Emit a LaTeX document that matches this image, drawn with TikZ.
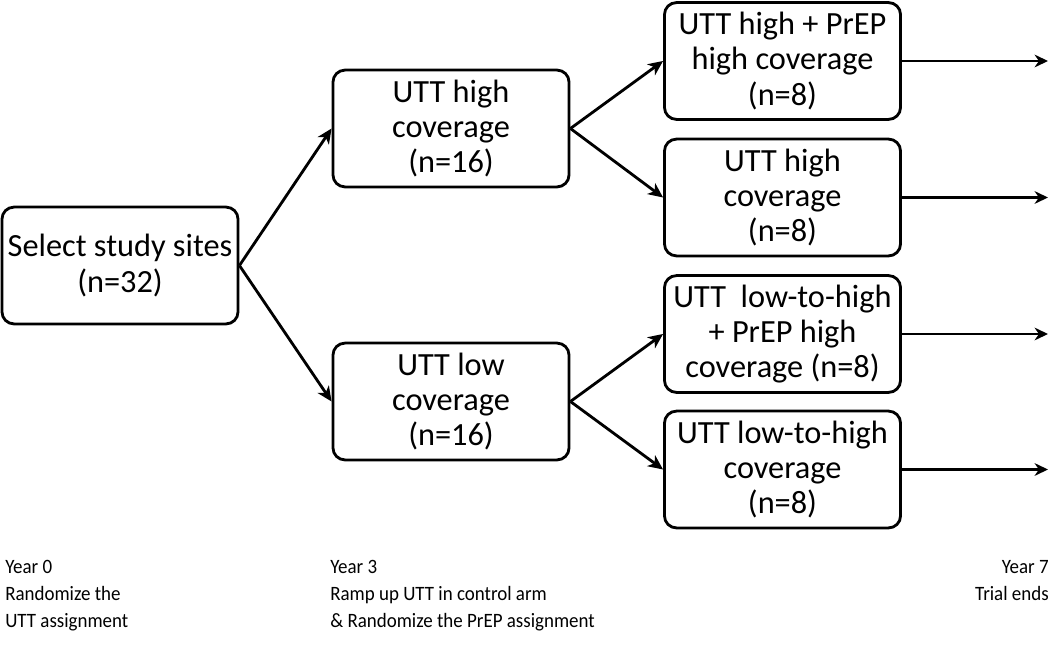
\documentclass[tikz,border=0pt]{standalone}
\usepackage{fontspec}
\setmainfont{Carlito}
\newfontfamily\yearfont[FakeStretch=0.93]{Carlito}
\usetikzlibrary{arrows.meta}

\begin{document}
\begin{tikzpicture}[x=0.025cm,y=-0.025cm,
        box/.style={draw,line width=2pt,rounded corners=0.3cm,align=center,
            minimum width=5.9cm,minimum height=2.92cm,inner sep=0pt,
            font=\fontsize{23}{25}\selectfont,
            execute at begin node={\rule{0pt}{23pt}}},
        link/.style={-{Stealth[length=10.5pt,width=9.5pt,inset=3pt]},line width=2pt},
        endarrow/.style={-{Stealth[length=9.5pt,width=9pt,inset=3pt]},line width=1.5pt},
        year/.style={align=left,inner sep=0pt,font=\yearfont\fontsize{14.5}{19.2}\selectfont}]
    \useasboundingbox (0,0) rectangle (1050,644);
    % first randomization
    \node[box] (sel) at (120,265.5) {Select study sites\\(n=32)};
    \node[box] (hi) at (451,128.5) {UTT high\\coverage\\(n=16)};
    \node[box] (lo) at (451,401.5) {UTT low\\coverage\\(n=16)};
    % second randomization
    \node[box] (hiP) at (782.5,61) {UTT high + PrEP\\high coverage\\(n=8)};
    \node[box] (hiN) at (782.5,197.5) {UTT high\\coverage\\(n=8)};
    \node[box] (loP) at (782.5,334) {UTT\ \ low-to-high\\+ PrEP high\\coverage (n=8)};
    \node[box] (loN) at (782.5,469.5) {UTT low-to-high\\coverage\\(n=8)};
    \coordinate (tEnd) at (1048,0);
    \foreach \a/\b in {sel/hi,sel/lo,hi/hiP,hi/hiN,lo/loP,lo/loN}
        \draw[link] (\a.east) -- (\b.west);
    \foreach \n in {hiP,hiN,loP,loN}
        \draw[endarrow] (\n.east) -- (\n.east -| tEnd);
    % time line
    \node[year,anchor=north west] (y0) at (5,560) {Year 0\\Randomize the\\UTT assignment};
    \node[year,anchor=north west] (y3) at (330,560) {Year 3\\Ramp up UTT in control arm\\\& Randomize the PrEP assignment};
    \node[year,anchor=north east,align=right] (y7) at (1049,560) {Year 7\\Trial ends};
\end{tikzpicture}
\end{document}
